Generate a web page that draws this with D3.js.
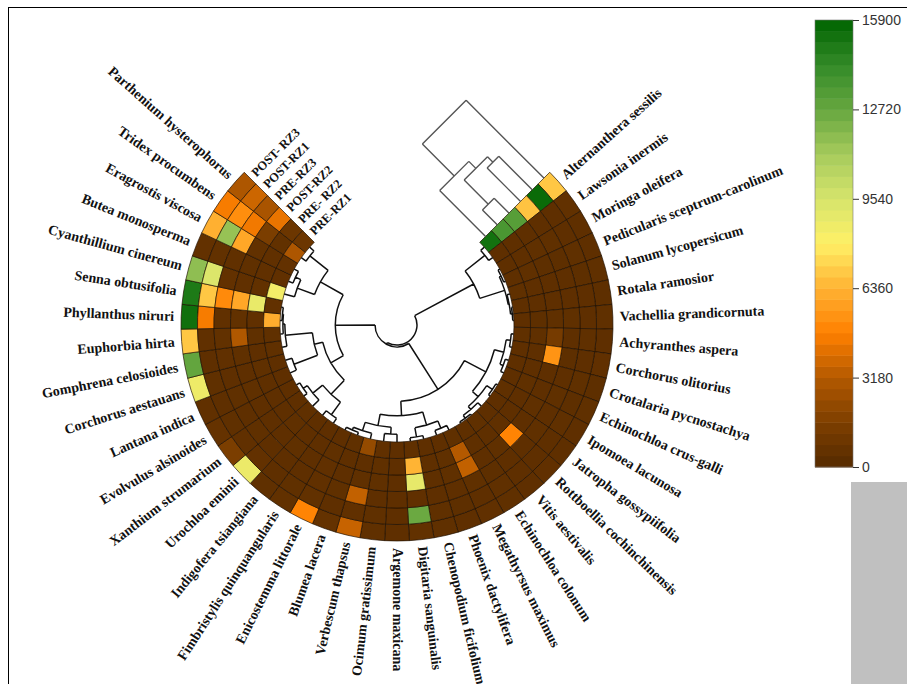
<!DOCTYPE html>
<html>
<head>
<meta charset="utf-8">
<script src="https://cdn.jsdelivr.net/npm/d3@7"></script>
<style>
  html, body { margin: 0; padding: 0; background: #fff; }
  svg { display: block; }
</style>
</head>
<body>
<svg id="chart" width="907" height="684"></svg>
<script>
// ---- data -------------------------------------------------------------
const species = [
  "Alternanthera sessilis", "Lawsonia inermis", "Moringa oleifera",
  "Pedicularis sceptrum-carolinum", "Solanum lycopersicum", "Rotala ramosior",
  "Vachellia grandicornuta", "Achyranthes aspera", "Corchorus olitorius",
  "Crotalaria pycnostachya", "Echinochloa crus-galli", "Ipomoea lacunosa",
  "Jatropha gossypiifolia", "Rottboellia cochinchinensis", "Vitis aestivalis",
  "Echinochloa colonum", "Megathyrsus maximus", "Phoenix dactylifera",
  "Chenopodium ficifolium", "Digitaria sanguinalis", "Argemone maxicana",
  "Ocimum gratissimum", "Verbescum thapsus", "Blumea lacera",
  "Enicostemma littorale", "Fimbristylis quinquangularis", "Indigofera tsiangiana",
  "Urochloa eminii", "Xanthium strumarium", "Evolvulus alsinoides",
  "Lantana indica", "Corchorus aestauans", "Gomphrena celosioides",
  "Euphorbia hirta", "Phyllanthus niruri", "Senna obtusifolia",
  "Cyanthillium cinereum", "Butea monosperma", "Eragrostis viscosa",
  "Tridex procumbens", "Parthenium hysterophorus"
];

// tracks, outermost ring first
const tracks = ["POST- RZ3", "POST-RZ1", "PRE-RZ3", "POST-RZ2", "PRE- RZ2", "PRE-RZ1"];

const postRZ3 = [6900, 520, 410, 380, 450, 360, 420, 390, 470, 350, 430, 380, 410, 460, 390, 420, 480, 400, 430, 520, 380,
                 450, 3600, 600, 4900, 520, 440, 8700, 1500, 620, 480, 8600, 12800, 6900, 15400, 15000, 11700, 560, 6300, 4600, 3000];
const postRZ1 = [15600, 400, 380, 420, 360, 410, 390, 440, 380, 420, 360, 450, 390, 410, 380, 430, 400, 370, 420, 12600, 390,
                 430, 460, 410, 520, 440, 380, 560, 480, 420, 390, 450, 410, 480, 4600, 6900, 9300, 520, 11500, 5200, 3700];
const preRZ3  = [6800, 380, 420, 360, 400, 390, 430, 410, 370, 400, 440, 380, 420, 390, 410, 370, 450, 400, 380, 480, 410,
                 390, 3500, 430, 470, 380, 410, 400, 440, 390, 420, 380, 460, 520, 480, 5100, 540, 470, 6000, 4500, 2900];
const postRZ2 = [13200, 400, 430, 370, 410, 390, 440, 1300, 5400, 410, 380, 420, 400, 4900, 430, 390, 3500, 420, 380, 8900, 410,
                 440, 430, 400, 460, 390, 420, 380, 410, 400, 430, 390, 420, 3100, 500, 6000, 480, 450, 520, 1500, 4300];
const preRZ2  = [13600, 410, 380, 420, 390, 400, 370, 430, 410, 380, 420, 400, 390, 440, 410, 380, 3200, 430, 400, 6400, 390,
                 420, 410, 380, 440, 400, 390, 420, 410, 380, 400, 430, 390, 450, 470, 8800, 500, 460, 480, 520, 900];
const preRZ1  = [15300, 390, 410, 380, 420, 400, 390, 430, 410, 380, 400, 420, 390, 410, 440, 380, 420, 400, 390, 430, 410,
                 460, 2300, 420, 390, 410, 380, 420, 400, 390, 410, 380, 420, 440, 6200, 520, 8400, 480, 560, 3000, 900];

const trackValues = [postRZ3, postRZ1, preRZ3, postRZ2, preRZ2, preRZ1];

// colour legend
const colorTicks = [0, 3180, 6360, 9540, 12720, 15900];
const colorStops = [0, 1590, 3180, 4770, 6360, 7950, 9540, 11130, 12720, 14310, 15900];
const colorRange = ["#552a00", "#7d3f00", "#b35900", "#ff8000", "#ffb233", "#fff066",
                    "#d6e46c", "#a6cb5c", "#66a63f", "#338a28", "#006400"];

// row dendrogram: [height, left, right]; leaves are species indices
const rowTree =
  [1.00,
    [0.31, [0.05, 0, 1], [0.04, [0.02, 2, 3], [0.03, 4, [0.012, 5, 6]]]],
    [0.98,
      [0.42,
        [0.17, [0.07, [0.025, 7, 8], [0.035, 9, 10]], [0.09, [0.02, 11, 12], [0.05, 13, [0.015, 14, 15]]]],
        [0.27, [0.13, [0.05, 16, 17], [0.035, 18, 19]], [0.15, [0.08, 20, 21], [0.06, 22, [0.03, 23, 24]]]]],
      [0.57,
        [0.42, [0.22, [0.06, 25, 26], [0.09, 27, [0.04, 28, 29]]],
               [0.33, [0.07, 30, 31], [0.05, 32, [0.03, 33, [0.02, 34, 35]]]]],
        [0.30, [0.11, 36, [0.05, 37, 38]], [0.06, 39, 40]]]]];

// track dendrogram: [height, left, right]; leaves are track indices
const trackTree = [1.00, 0, [0.59, [0.50, [0.43, 1, 2], [0.19, 3, 4]], 5]];

// ---- layout -----------------------------------------------------------
const svg = d3.select("#chart");
const cx = 397, cy = 325;
const rIn = 117, rOut = 216, rRoot = 20;
const deg = Math.PI / 180;
const a0 = 45 * deg, a1 = 315 * deg;

const angle = d3.scaleBand().domain(species).range([a0, a1]);
const radius = d3.scaleBand().domain(tracks).range([rOut, rIn]);
const color = d3.scaleLinear().domain(colorStops).range(colorRange).clamp(true);

const g = svg.append("g").attr("transform", `translate(${cx},${cy})`);
const pt = (r, a) => [r * Math.sin(a), -r * Math.cos(a)];

// frame
svg.append("line").attr("x1", 8).attr("y1", 7.5).attr("x2", 907).attr("y2", 7.5)
  .attr("stroke", "#000").attr("stroke-width", 1);
svg.append("line").attr("x1", 8.5).attr("y1", 7).attr("x2", 8.5).attr("y2", 684)
  .attr("stroke", "#000").attr("stroke-width", 1);

// ---- heatmap cells ----------------------------------------------------
const arc = d3.arc();
const cells = [];
tracks.forEach((t, ti) => species.forEach((s, si) => cells.push({ t, s, v: trackValues[ti][si] })));

g.append("g").selectAll("path").data(cells).join("path")
  .attr("d", d => arc({
    innerRadius: radius(d.t), outerRadius: radius(d.t) + radius.bandwidth(),
    startAngle: angle(d.s), endAngle: angle(d.s) + angle.bandwidth()
  }))
  .attr("fill", d => color(d.v))
  .attr("stroke", "#1e0f00").attr("stroke-opacity", 0.75).attr("stroke-width", 0.9);

// ---- row dendrogram ---------------------------------------------------
const hToR = d3.scaleLinear().domain([0, 1]).range([rIn, rRoot]);
function layoutRow(node) {
  if (typeof node === "number") {
    return { a: angle(species[node]) + angle.bandwidth() / 2, r: rIn };
  }
  const kids = [layoutRow(node[1]), layoutRow(node[2])];
  return { a: (kids[0].a + kids[1].a) / 2, r: hToR(node[0]), kids };
}
const rowRoot = layoutRow(rowTree);
const rowPath = d3.path();
(function drawRow(n) {
  if (!n.kids) return;
  const [k1, k2] = n.kids;
  const p = pt(n.r, k1.a);
  rowPath.moveTo(p[0], p[1]);
  rowPath.arc(0, 0, n.r, k1.a - Math.PI / 2, k2.a - Math.PI / 2, k2.a < k1.a);
  n.kids.forEach(k => {
    const q0 = pt(n.r, k.a), q1 = pt(k.r, k.a);
    rowPath.moveTo(q0[0], q0[1]);
    rowPath.lineTo(q1[0], q1[1]);
    drawRow(k);
  });
})(rowRoot);
g.append("path").attr("d", rowPath.toString())
  .attr("fill", "none").attr("stroke", "#111").attr("stroke-width", 1.5);

// ---- track dendrogram (in the gap, at the start edge) -----------------
const ux = Math.sin(a0), uy = -Math.cos(a0);      // radial direction of the edge
const vx = -Math.cos(a0), vy = -Math.sin(a0);     // tangential, pointing into the gap
const tLen = 110;
const loc = (s, t) => [s * ux + t * vx, s * uy + t * vy];
function layoutTrack(node) {
  if (typeof node === "number") {
    return { s: radius(tracks[node]) + radius.bandwidth() / 2, t: 0 };
  }
  const kids = [layoutTrack(node[1]), layoutTrack(node[2])];
  return { s: (kids[0].s + kids[1].s) / 2, t: node[0] * tLen, kids };
}
const trackRoot = layoutTrack(trackTree);
const trackPath = d3.path();
(function drawTrack(n) {
  if (!n.kids) return;
  const [k1, k2] = n.kids;
  const p1 = loc(k1.s, n.t), p2 = loc(k2.s, n.t);
  trackPath.moveTo(p1[0], p1[1]); trackPath.lineTo(p2[0], p2[1]);
  n.kids.forEach(k => {
    const q0 = loc(k.s, n.t), q1 = loc(k.s, k.t);
    trackPath.moveTo(q0[0], q0[1]); trackPath.lineTo(q1[0], q1[1]);
    drawTrack(k);
  });
})(trackRoot);
g.append("path").attr("d", trackPath.toString())
  .attr("fill", "none").attr("stroke", "#555").attr("stroke-width", 1.4);

// ---- track labels at the end edge -------------------------------------
const endDeg = a1 / deg;
g.append("g").selectAll("text").data(tracks).join("text")
  .attr("transform", d => {
    const r = radius(d) + radius.bandwidth() / 2;
    const p = pt(r, a1);
    const off = 5;
    const x = p[0] + off * Math.cos(a1), y = p[1] + off * Math.sin(a1);
    return `translate(${x},${y}) rotate(${endDeg - 360})`;
  })
  .attr("dominant-baseline", "central")
  .attr("font-family", "'Liberation Serif', 'Times New Roman', serif")
  .attr("font-weight", "bold").attr("font-size", 12.5).attr("fill", "#111")
  .text(d => d);

// ---- species labels ---------------------------------------------------
const rLab = 223;
g.append("g").selectAll("text").data(species).join("text")
  .each(function (d) {
    const a = angle(d) + angle.bandwidth() / 2;
    const ad = a / deg;
    const p = pt(rLab, a);
    const right = ad <= 180.001;
    d3.select(this)
      .attr("transform", `translate(${p[0]},${p[1]}) rotate(${right ? ad - 90 : ad - 270})`)
      .attr("text-anchor", right ? "start" : "end");
  })
  .attr("dominant-baseline", "central")
  .attr("font-family", "'Liberation Serif', 'Times New Roman', serif")
  .attr("font-weight", "bold").attr("font-size", 14).attr("fill", "#111")
  .text(d => d);

// ---- colour legend ----------------------------------------------------
const legX = 815, legW = 38, legTop = 20, legBot = 467;
const ly = d3.scaleLinear().domain([0, 15900]).range([legBot, legTop]);
const nBands = 40;
const bands = d3.range(nBands).map(i => ({
  lo: 15900 * i / nBands, hi: 15900 * (i + 1) / nBands, mid: 15900 * (i + 0.5) / nBands
}));
const leg = svg.append("g");
leg.selectAll("rect").data(bands).join("rect")
  .attr("x", legX).attr("width", legW)
  .attr("y", d => ly(d.hi)).attr("height", d => ly(d.lo) - ly(d.hi) + 0.5)
  .attr("fill", d => color(d.mid));
leg.append("rect").attr("x", legX).attr("y", legTop).attr("width", legW)
  .attr("height", legBot - legTop).attr("fill", "none").attr("stroke", "#777").attr("stroke-width", 0.6);
const legAxis = leg.append("g").attr("transform", `translate(${legX + legW},0)`)
  .call(d3.axisRight(ly).tickValues(colorTicks).tickSize(6).tickPadding(3).tickFormat(d3.format("d")));
legAxis.select(".domain").remove();
legAxis.selectAll(".tick line").attr("stroke", "#333");
legAxis.selectAll(".tick text")
  .attr("font-family", "'Liberation Sans', Arial, sans-serif").attr("font-size", 14).attr("fill", "#333");

// grey block under the legend
svg.append("rect").attr("x", 851).attr("y", 482).attr("width", 56).attr("height", 202).attr("fill", "#c0c0c0");
</script>
</body>
</html>
